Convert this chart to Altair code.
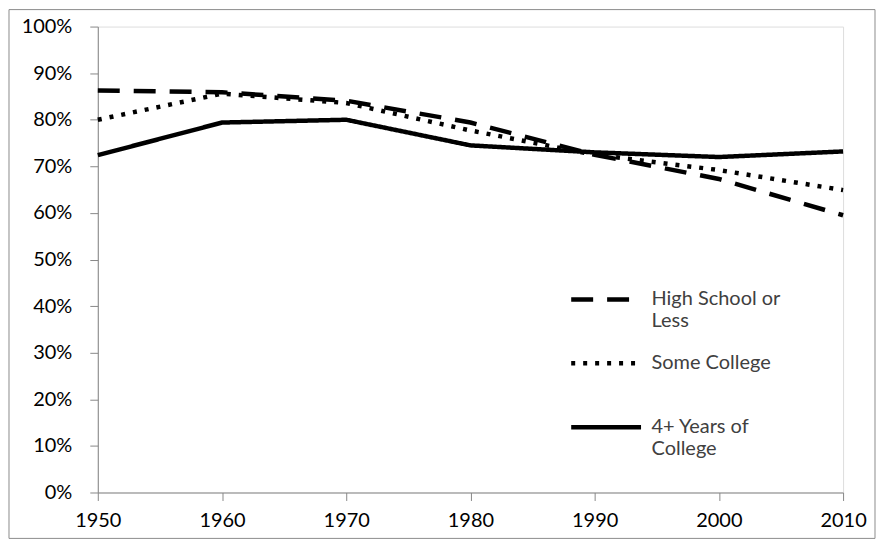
import altair as alt
import pandas as pd

years = [1950, 1960, 1970, 1980, 1990, 2000, 2010]
series_names = ["High School or Less", "Some College", "4+ Years of College"]
high_school = [0.863, 0.859, 0.841, 0.794, 0.725, 0.673, 0.595]
some_college = [0.800, 0.856, 0.836, 0.777, 0.725, 0.692, 0.649]
college4 = [0.724, 0.794, 0.800, 0.745, 0.730, 0.720, 0.732]

rows = []
for name, vals in zip(series_names, [high_school, some_college, college4]):
    for y, v in zip(years, vals):
        rows.append({"Year": y, "Share": v, "Series": name})
df = pd.DataFrame(rows)

FONT = "Lato"
GRAY = "#8c8c8c"
TXT = "#404040"

label_expr = ("datum.label == 'High School or Less' ? ['High School or', 'Less'] : "
              "datum.label == '4+ Years of College' ? ['4+ Years of', 'College'] : [datum.label, ' ']")

lines = alt.Chart(df).mark_line(color="black", strokeWidth=4.5).encode(
    x=alt.X("Year:Q", scale=alt.Scale(domain=[1950, 2010], nice=False, zero=False),
            axis=alt.Axis(values=years, format="d", title=None, labelFontSize=20, grid=False,
                          labelPadding=10, tickSize=8, labelFlush=False)),
    y=alt.Y("Share:Q", scale=alt.Scale(domain=[0, 1], nice=False),
            axis=alt.Axis(values=[i / 10 for i in range(11)], format=".0%", title=None, grid=False,
                          labelFontSize=20, labelPadding=18, tickSize=8)),
    strokeDash=alt.StrokeDash(
        "Series:N",
        scale=alt.Scale(domain=series_names, range=[[22, 14], [4, 8], [1, 0]]),
        legend=alt.Legend(
            title=None, orient="none", legendX=472, legendY=242,
            symbolType="M-1,-0.17L1,-0.17", symbolSize=4900,
            symbolStrokeWidth=4.5, symbolStrokeColor="black",
            labelFontSize=20, labelFont=FONT, labelColor=TXT, labelOffset=8,
            labelBaseline="alphabetic", labelExpr=label_expr, rowPadding=0,
            labelLimit=300,
        ),
    ),
    detail="Series:N",
)

border_df = pd.DataFrame({"k": [0]})
border = alt.Chart(border_df).mark_rect(fill=None, stroke=GRAY, strokeWidth=1).encode(
    x=alt.value(-89), x2=alt.value(779), y=alt.value(-17), y2=alt.value(513)
)

chart = alt.layer(border, lines).properties(
    width=747, height=467,
    autosize=alt.AutoSizeParams(type="none"),
    padding={"left": 90, "top": 18, "right": 33, "bottom": 47},
).configure_view(stroke=None).configure_axis(
    grid=False, domainColor=GRAY, tickColor=GRAY, labelColor=TXT, labelFont=FONT,
    domainWidth=1.2, tickWidth=1.2,
).configure(font=FONT)

chart.save("out.html", embed_options={"renderer": "svg", "actions": False})
